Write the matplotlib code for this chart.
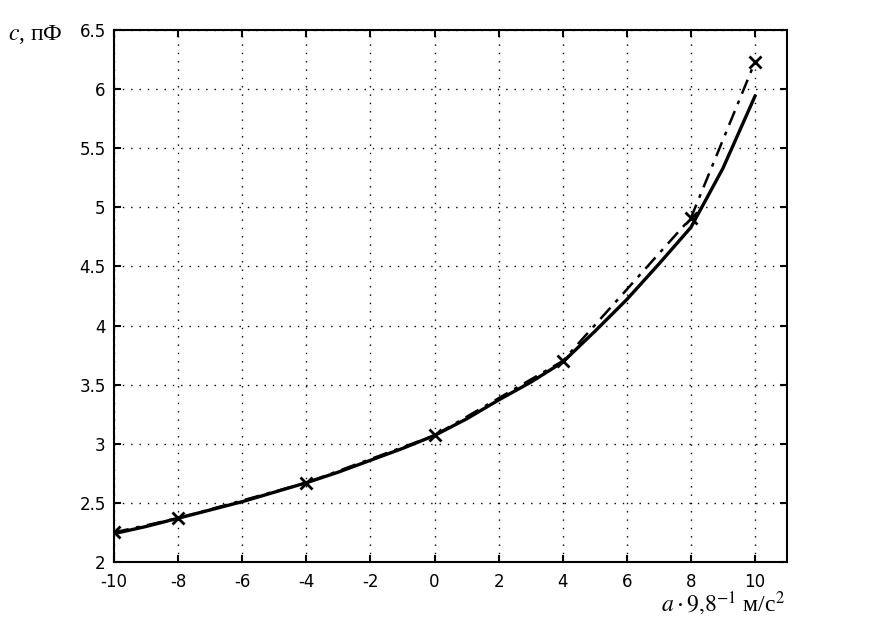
import matplotlib
matplotlib.use('Agg')
import matplotlib.pyplot as plt
import numpy as np

# measured points (markers, dash-dot)
x_exp = [-10, -8, -4, 0, 4, 8, 10]
c_exp = [2.25, 2.37, 2.67, 3.07, 3.70, 4.91, 6.23]

# calculated curve (solid)
x_calc = [-10, -9, -8, -7, -6, -5, -4, -3, -2, -1, 0, 1, 2, 3, 4, 5, 6, 7, 8, 9, 10]
c_calc = [2.24, 2.30, 2.37, 2.44, 2.51, 2.59, 2.67, 2.76, 2.86, 2.96, 3.07,
          3.21, 3.37, 3.52, 3.69, 3.95, 4.22, 4.52, 4.83, 5.33, 5.94]

x_ticks = [-10, -8, -6, -4, -2, 0, 2, 4, 6, 8, 10]
y_ticks = [2, 2.5, 3, 3.5, 4, 4.5, 5, 5.5, 6, 6.5]

plt.rcParams['mathtext.fontset'] = 'stix'

fig = plt.figure(figsize=(8.71, 6.31), dpi=100)
ax = fig.add_axes([0.1309, 0.1094, 0.7727, 0.8431])

ax.plot(x_calc, c_calc, color='black', linewidth=2.4, linestyle='-')
ax.plot(x_exp, c_exp, color='black', linewidth=1.8, linestyle=(0, (6, 3, 1.5, 3)),
        marker='x', markersize=9, markeredgewidth=2)

ax.set_xlim(-10, 11)
ax.set_ylim(2, 6.5)
ax.set_xticks(x_ticks)
ax.set_yticks(y_ticks)
ax.set_xticklabels([str(t) for t in x_ticks])
ax.set_yticklabels([('%g' % t) for t in y_ticks])

ax.grid(True, color='black', linestyle=(0, (1, 5)), linewidth=1.0)
ax.tick_params(direction='in', length=5, width=1.5, top=True, right=True,
               labelsize=12)
ax.tick_params(axis='x', pad=8)
ax.tick_params(axis='y', pad=6)
for s in ax.spines.values():
    s.set_linewidth(1.5)

# axis labels as in the original (top-left and bottom-right)
fig.text(8 / 871, 1 - 40 / 631, r'$c$, пФ', family='Liberation Serif',
         fontsize=17, ha='left', va='baseline')
fig.text(785 / 871, 1 - 612 / 631, r'$a\cdot 9{,}8^{-1}$ м/с$^2$',
         family='Liberation Serif', fontsize=17, ha='right', va='baseline')

fig.savefig('out.png', dpi=100)
